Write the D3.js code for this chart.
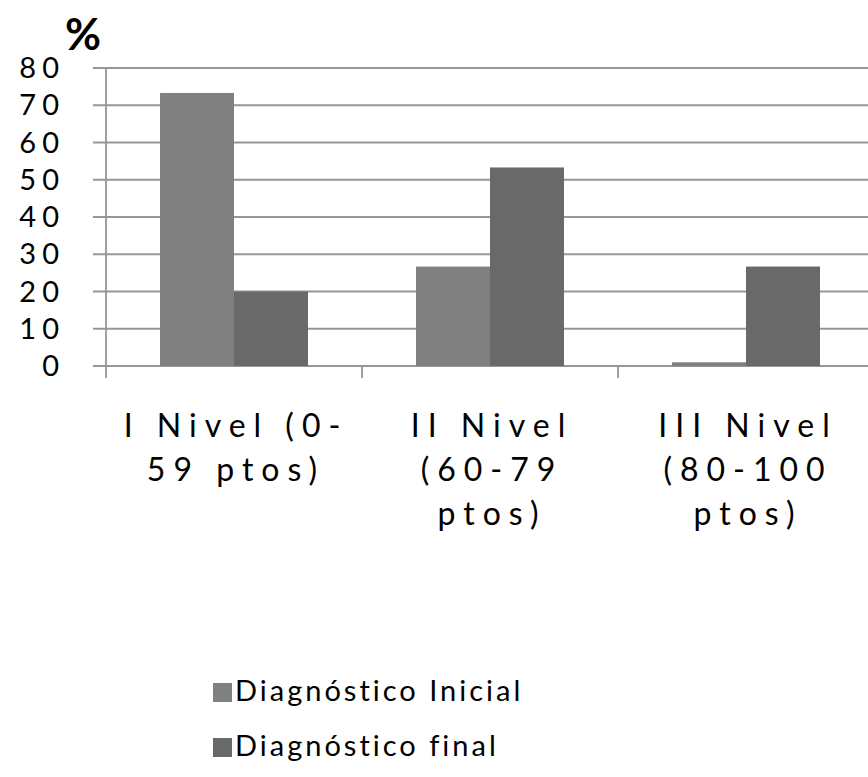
<!DOCTYPE html>
<html>
<head>
<meta charset="utf-8">
<script src="https://cdn.jsdelivr.net/npm/d3@7"></script>
<style>
  html, body { margin: 0; padding: 0; background: #fff; }
  svg text { font-family: Lato, "Open Sans", sans-serif; fill: #000; }
</style>
</head>
<body>
<svg id="chart" width="868" height="777"></svg>
<script>
// Categories (levels), with their label lines
const categories = ["I", "II", "III"];
const categoryLines = [
  ["I Nivel (0-", "59 ptos)"],
  ["II Nivel", "(60-79", "ptos)"],
  ["III Nivel", "(80-100", "ptos)"]
];
const seriesNames = ["Diagnóstico Inicial", "Diagnóstico final"];
const inicialValues = [73.3, 26.7, 1.0];
const finalValues = [20.0, 53.3, 26.7];
const yTicks = [0, 10, 20, 30, 40, 50, 60, 70, 80];
const seriesColors = ["#808080", "#696969"];

const svg = d3.select("#chart");

const x0 = d3.scaleBand().domain(categories).range([106, 874]).padding(0);
const x1 = d3.scaleBand().domain(seriesNames).range([0, x0.bandwidth()])
  .paddingInner(0).paddingOuter(0.73);
const y = d3.scaleLinear().domain([0, 80]).range([366, 68]);

// Horizontal gridlines
svg.append("g").selectAll("line").data(yTicks).join("line")
  .attr("x1", 93).attr("x2", 868)
  .attr("y1", d => y(d)).attr("y2", d => y(d))
  .attr("stroke", "#969696").attr("stroke-width", 1.8);

// Vertical axis line
svg.append("line")
  .attr("x1", 106).attr("x2", 106).attr("y1", y(80)).attr("y2", 378)
  .attr("stroke", "#969696").attr("stroke-width", 1.8);

// Category separator ticks
svg.append("g").selectAll("line").data(categories.slice(1)).join("line")
  .attr("x1", d => x0(d)).attr("x2", d => x0(d))
  .attr("y1", y(0)).attr("y2", 378)
  .attr("stroke", "#969696").attr("stroke-width", 1.8);

// Bars
const rows = categories.map((c, i) => ({ cat: c, vals: [inicialValues[i], finalValues[i]] }));
const groups = svg.append("g").selectAll("g").data(rows).join("g")
  .attr("transform", d => `translate(${x0(d.cat)},0)`);
groups.selectAll("rect")
  .data(d => d.vals.map((v, j) => ({ name: seriesNames[j], v, j })))
  .join("rect")
  .attr("x", d => x1(d.name))
  .attr("width", x1.bandwidth())
  .attr("y", d => y(d.v))
  .attr("height", d => y(0) - y(d.v))
  .attr("fill", d => seriesColors[d.j]);

// Y tick labels
svg.append("g").selectAll("text").data(yTicks).join("text")
  .attr("x", 65)
  .attr("y", d => y(d) + 10)
  .attr("text-anchor", "end")
  .style("font-size", "29px")
  .style("letter-spacing", "6px")
  .text(d => d);

// Percent sign
svg.append("text")
  .attr("x", 83).attr("y", 50)
  .attr("text-anchor", "middle")
  .style("font-size", "44px").style("font-weight", "bold")
  .text("%");

// Category labels
const lab = svg.append("g").selectAll("text").data(categories).join("text")
  .attr("text-anchor", "middle")
  .style("font-size", "32px")
  .style("letter-spacing", "8px");
lab.each(function (d, i) {
  const cx = x0(d) + x0.bandwidth() / 2;
  d3.select(this).selectAll("tspan").data(categoryLines[i]).join("tspan")
    .attr("x", cx + 2)
    .attr("y", (t, k) => 437 + k * 44)
    .text(t => t);
});

// Legend
const leg = svg.append("g").selectAll("g").data(seriesNames).join("g")
  .attr("transform", (d, i) => `translate(0,${701 + i * 55})`);
leg.append("rect")
  .attr("x", 213).attr("y", -18).attr("width", 19).attr("height", 19)
  .attr("fill", (d, i) => seriesColors[i]);
leg.append("text")
  .attr("x", 235).attr("y", 0)
  .style("font-size", "29px")
  .style("letter-spacing", "3px")
  .text(d => d);
</script>
</body>
</html>
